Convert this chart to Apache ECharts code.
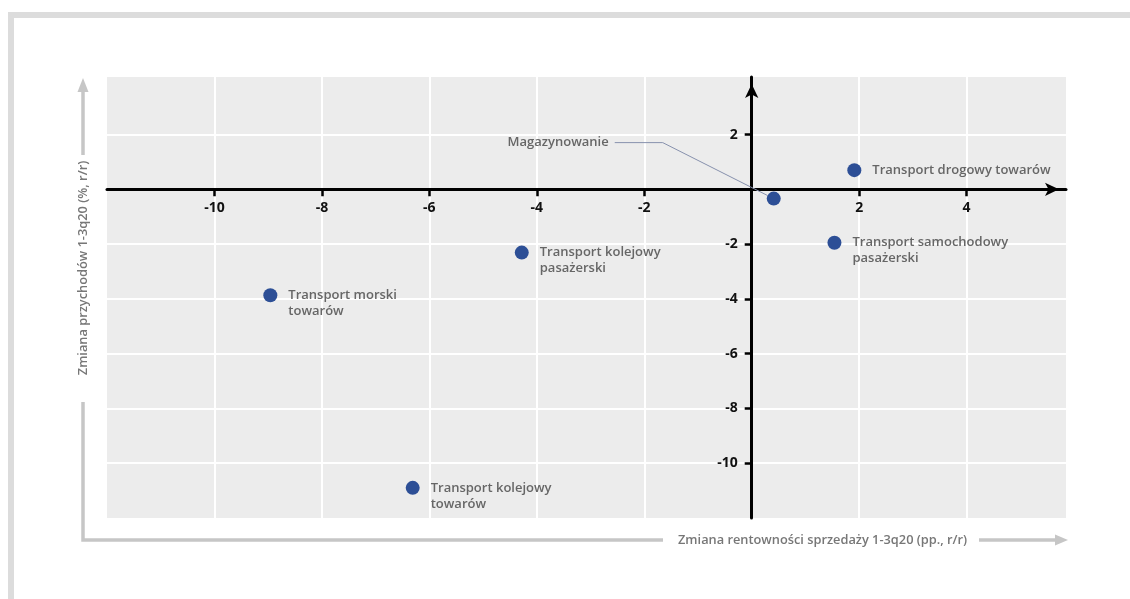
<!DOCTYPE html>
<html>
<head>
<meta charset="utf-8">
<title>Rentowność a przychody</title>
<script src="https://cdn.jsdelivr.net/npm/echarts@6/dist/echarts.min.js"></script>
<style>
  html, body { margin: 0; padding: 0; background: #ffffff; }
  #chart { width: 1130px; height: 599px; }
</style>
</head>
<body>
<div id="chart"></div>
<script>
// Sector names and their position: change in sales margin (pp., y/y) and revenue change (%, y/y)
const sectors = [
  'Magazynowanie',
  'Transport drogowy towarów',
  'Transport samochodowy\npasażerski',
  'Transport kolejowy\npasażerski',
  'Transport morski\ntowarów',
  'Transport kolejowy\ntowarów'
];
const marginChange  = [0.41, 1.91, 1.54, -4.28, -8.96, -6.31];
const revenueChange = [-0.34, 0.70, -1.95, -2.31, -3.87, -10.90];

// Tick values shown on the crossing axes
const xTicks = [-10, -8, -6, -4, -2, 2, 4];
const yTicks = [2, -2, -4, -6, -8, -10];

const xTitle = 'Zmiana rentowności sprzedaży 1-3q20 (pp., r/r)';
const yTitle = 'Zmiana przychodów 1-3q20 (%, r/r)';

const FONT = '"Open Sans", "DejaVu Sans", sans-serif';
const DOT = '#2d4f96';
const GUIDE = '#c6c6c6';

const GRID = { left: 107, right: 64, top: 77, bottom: 81 };
const W = 1130, H = 599;

const points = sectors.map((name, i) => ({ name, value: [marginChange[i], revenueChange[i]] }));

const labelText = {
  show: true,
  position: 'right',
  distance: 11,
  color: '#666666',
  fontFamily: FONT,
  fontSize: 13,
  fontWeight: 600,
  lineHeight: 16,
  verticalAlign: 'top',
  offset: [0, -8],
  formatter: p => p.name
};

function axis(min, max, ticks, margin) {
  return {
    type: 'value',
    min: min,
    max: max,
    interval: 2,
    axisLine: {
      onZero: false,
      lineStyle: { color: '#000', width: 3 },
      symbol: ['none', 'arrow'],
      symbolSize: [10, 14],
      symbolOffset: [0, -7]
    },
    axisTick: { show: true, length: 7, customValues: ticks, lineStyle: { color: '#000', width: 2.5 } },
    axisLabel: {
      customValues: ticks,
      margin: margin,
      color: '#111',
      fontFamily: FONT,
      fontSize: 14,
      fontWeight: 'bold'
    },
    splitLine: { show: true, lineStyle: { color: '#ffffff', width: 2 } }
  };
}

const chart = echarts.init(document.getElementById('chart'), null, { renderer: 'canvas' });

chart.setOption({
  backgroundColor: '#ffffff',
  animation: false,
  grid: Object.assign({ show: true, backgroundColor: '#ececec', borderWidth: 0 }, GRID),
  xAxis: Object.assign(axis(-12, 5.85, xTicks, 12), { position: 'bottom' }),
  yAxis: Object.assign(axis(-12, 4.1, yTicks, 14), { position: 'left' }),
  series: [
    {
      // first sector carries a leader line to a label placed up and to the left
      type: 'scatter',
      symbolSize: 14,
      itemStyle: { color: DOT, opacity: 1 },
      data: points.slice(0, 1),
      label: Object.assign({}, labelText, {
        position: 'left', distance: 5, verticalAlign: 'middle', offset: [0, 0], padding: [2, 6, 2, 4]
      }),
      labelLayout: { dx: -147, dy: -56 },
      labelLine: { show: true, length2: 48, lineStyle: { color: '#8791ad', width: 1 } },
      z: 3
    },
    {
      type: 'scatter',
      symbolSize: 14,
      itemStyle: { color: DOT, opacity: 1 },
      data: points.slice(1),
      label: labelText,
      z: 3
    }
  ],
  graphic: [
    // outer frame strips
    { type: 'rect', shape: { x: 8, y: 12, width: 1122, height: 6 }, style: { fill: '#dcdcdc' }, silent: true },
    { type: 'rect', shape: { x: 8, y: 12, width: 6, height: 587 }, style: { fill: '#dcdcdc' }, silent: true },
    // guide arrows along the left and bottom
    { type: 'polyline', shape: { points: [[83, 155], [83, 90]] }, style: { stroke: GUIDE, lineWidth: 3.5, fill: null }, silent: true },
    { type: 'polygon', shape: { points: [[77.5, 92], [83, 78], [88.5, 92]] }, style: { fill: GUIDE }, silent: true },
    { type: 'polyline', shape: { points: [[83, 402], [83, 540], [663, 540]] }, style: { stroke: GUIDE, lineWidth: 3.5, fill: null }, silent: true },
    { type: 'polyline', shape: { points: [[979, 540], [1057, 540]] }, style: { stroke: GUIDE, lineWidth: 3.5, fill: null }, silent: true },
    { type: 'polygon', shape: { points: [[1055, 534.5], [1068, 540], [1055, 545.5]] }, style: { fill: GUIDE }, silent: true },
    {
      type: 'text', x: 678, y: 540, silent: true,
      style: { text: xTitle, fill: '#777777', font: '600 12.8px ' + FONT, textAlign: 'left', textVerticalAlign: 'middle' }
    },
    {
      type: 'text', x: 83, y: 268, rotation: Math.PI / 2, silent: true,
      style: { text: yTitle, fill: '#777777', font: '600 12.8px ' + FONT, textAlign: 'center', textVerticalAlign: 'middle' }
    }
  ]
});

// Move both axes (line, ticks and labels) so they cross at the origin
const origin = chart.convertToPixel({ gridIndex: 0 }, [0, 0]);
chart.setOption({
  xAxis: { offset: -((H - GRID.bottom) - origin[1]) },
  yAxis: { offset: -(origin[0] - GRID.left) }
});
</script>
</body>
</html>
